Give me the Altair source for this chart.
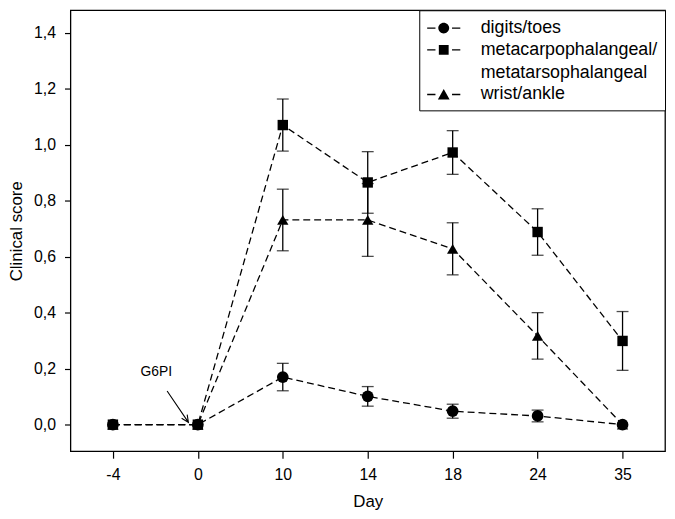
import altair as alt
import pandas as pd

days = ["-4", "0", "10", "14", "18", "24", "35"]
series_names = ["digits/toes", "metacarpophalangeal/metatarsophalangeal", "wrist/ankle"]
digits = [0.0, 0.0, 0.170, 0.101, 0.048, 0.031, 0.0]
digits_err = [0.0, 0.0, 0.049, 0.035, 0.025, 0.021, 0.0]
meta = [0.0, 0.0, 1.070, 0.865, 0.972, 0.688, 0.299]
meta_err = [0.0, 0.0, 0.093, 0.110, 0.078, 0.083, 0.105]
wrist = [0.0, 0.0, 0.731, 0.731, 0.628, 0.317, 0.0]
wrist_err = [0.0, 0.0, 0.110, 0.130, 0.093, 0.083, 0.0]
y_ticks = [0.0, 0.2, 0.4, 0.6, 0.8, 1.0, 1.2, 1.4]

rows = []
for name, vals, errs in zip(series_names, [digits, meta, wrist], [digits_err, meta_err, wrist_err]):
    for d, v, e in zip(days, vals, errs):
        rows.append({"day": d, "series": name, "value": v, "err": e, "lo": v - e, "hi": v + e})
df = pd.DataFrame(rows)
err_df = df[df["err"] > 0]

FONT = "Liberation Sans"
xenc = alt.X("day:N", sort=days, scale=alt.Scale(type="point", padding=0.5),
             axis=alt.Axis(title="Day", labelAngle=0, tickSize=7, labelPadding=9,
                           titlePadding=11, domain=False, labelFontSize=16, titleFontSize=17))
yscale = alt.Scale(domain=[-0.095, 1.480], nice=False, zero=False)
yaxis = alt.Axis(title="Clinical score", values=y_ticks, tickSize=6, labelPadding=9,
                 titlePadding=8, domain=False, grid=False, labelFontSize=16, titleFontSize=17,
                 labelExpr="replace(format(datum.value, '.1f'), '.', ',')")

base = alt.Chart(df)

lines = base.mark_line(color="black", strokeDash=[7, 4], strokeWidth=1.3).encode(
    x=xenc, y=alt.Y("value:Q", scale=yscale, axis=yaxis), detail="series:N")

bars = alt.Chart(err_df).mark_rule(color="black", strokeWidth=1.3).encode(
    x=alt.X("day:N", sort=days), y="lo:Q", y2="hi:Q")
cap_lo = alt.Chart(err_df).mark_tick(color="black", orient="horizontal", size=12, thickness=1.3).encode(
    x=alt.X("day:N", sort=days), y="lo:Q")
cap_hi = alt.Chart(err_df).mark_tick(color="black", orient="horizontal", size=12, thickness=1.3).encode(
    x=alt.X("day:N", sort=days), y="hi:Q")

marker_shapes = ["circle", "square", "triangle-up"]
marker_sizes = [140, 110, 130]
point_layers = []
for name, shp, sz in zip(series_names, marker_shapes, marker_sizes):
    point_layers.append(
        base.transform_filter(alt.datum.series == name).mark_point(
            filled=True, color="black", opacity=1, shape=shp, size=sz
        ).encode(x=alt.X("day:N", sort=days), y="value:Q")
    )

# legend glyphs: short dash - marker - short dash (dashes drawn as thin filled bars)
dash = "M-0.91,-0.06H-0.15V0.06H-0.91ZM1.37,-0.06H2.13V0.06H1.37Z"
leg_shapes = [
    dash + "M1.11,0A0.5,0.5,0,1,1,0.11,0A0.5,0.5,0,1,1,1.11,0Z",
    dash + "M0.16,-0.45H1.06V0.45H0.16Z",
    dash + "M0.61,-0.5L1.15,0.45H0.07Z",
]
legend_layer = base.mark_point(filled=True, opacity=0, color="black").encode(
    x=alt.X("day:N", sort=days), y="value:Q",
    shape=alt.Shape("series:N", sort=series_names,
                    scale=alt.Scale(domain=series_names, range=leg_shapes),
                    legend=alt.Legend(title=None, orient="top-right", offset=0,
                                      strokeColor="black", fillColor="white", padding=7,
                                      labelFont=FONT, labelFontSize=18, labelColor="black",
                                      labelOffset=33, labelLimit=400,
                                      symbolSize=484, symbolOpacity=1, symbolFillColor="black",
                                      symbolStrokeColor="black", symbolStrokeWidth=0,
                                      rowPadding=2,
                                      labelExpr="datum.label == 'metacarpophalangeal/metatarsophalangeal' ? ['metacarpophalangeal/', 'metatarsophalangeal'] : datum.label")))

ann_df = pd.DataFrame({"day": ["0"], "value": [0.0], "txt_y": [0.188], "label": ["G6PI"]})
ann_text = alt.Chart(ann_df).mark_text(font=FONT, fontSize=14, dx=-42, color="black").encode(
    x=alt.X("day:N", sort=days), y="txt_y:Q", text="label:N")
arrow_path = "M-1.55,-1.7L-0.475,-0.115M-0.538,-0.51L-0.475,-0.115L-0.818,-0.32"
ann_arrow = alt.Chart(ann_df).mark_point(shape=arrow_path, size=1600, color="black",
                                          filled=False, strokeWidth=1.1, opacity=1).encode(
    x=alt.X("day:N", sort=days), y="value:Q")

chart = alt.layer(lines, bars, cap_lo, cap_hi, *point_layers, ann_text, ann_arrow, legend_layer).properties(
    width=600, height=445,
    autosize=alt.AutoSizeParams(type="none"),
    padding={"left": 63, "top": 0, "right": 2, "bottom": 57},
).configure(
    style={"guide-label": {"lineHeight": 23}}
).configure_view(stroke="black", strokeWidth=1.3).configure_axis(
    labelFont=FONT, titleFont=FONT, labelColor="black", titleColor="black",
    tickColor="black", titleFontWeight="normal", tickWidth=1.2
)

chart.save("out.html", embed_options={"renderer": "svg", "actions": False})
